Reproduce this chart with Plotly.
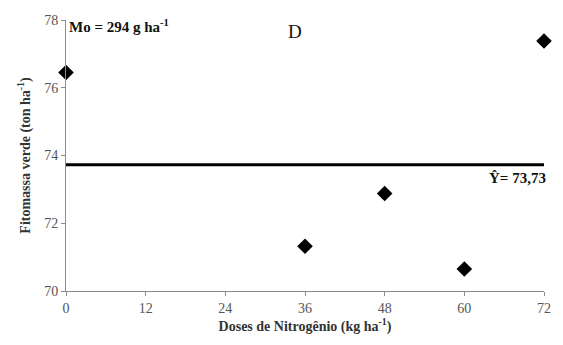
import plotly.graph_objects as go

doses = [0, 36, 48, 60, 72]
fitomassa = [76.45, 71.32, 72.88, 70.65, 77.38]
mean_value = 73.73
x_ticks = [0, 12, 24, 36, 48, 60, 72]
y_ticks = [70, 72, 74, 76, 78]

serif = "Liberation Serif"

fig = go.Figure()
fig.add_trace(go.Scatter(
    x=[min(x_ticks), max(x_ticks)], y=[mean_value, mean_value], mode="lines",
    line=dict(color="black", width=3), hoverinfo="skip", showlegend=False))
fig.add_trace(go.Scatter(
    x=doses, y=fitomassa, mode="markers",
    marker=dict(symbol="diamond", size=12, color="black"), showlegend=False, cliponaxis=False))

axis_common = dict(showgrid=False, zeroline=False, showline=True, linecolor="#8c8c8c", linewidth=1,
                   ticks="outside", ticklen=4, tickcolor="#8c8c8c",
                   tickfont=dict(family=serif, size=14, color="#555555"))
fig.update_xaxes(range=[0, 72], tickvals=x_ticks, **axis_common,
                 title=dict(text="<b>Doses de Nitrogênio (kg ha<sup>-1</sup>)</b>",
                            font=dict(family=serif, size=14, color="#333333"), standoff=6))
fig.update_yaxes(range=[70, 78], tickvals=y_ticks, **axis_common,
                 title=dict(text="<b>Fitomassa verde (ton ha<sup>-1</sup>)</b>",
                            font=dict(family=serif, size=14, color="#333333"), standoff=10))

fig.add_annotation(x=0, y=78, xref="x", yref="y", xanchor="left", yanchor="middle", xshift=1, yshift=-6,
                   text="<b>Mo = 294 g ha<sup>-1</sup></b>", showarrow=False,
                   font=dict(family=serif, size=15, color="#111111"))
fig.add_annotation(x=0.48, y=77.65, xref="paper", yref="y", xanchor="center", yanchor="middle",
                   text="D", showarrow=False, font=dict(family=serif, size=19, color="#111111"))
fig.add_annotation(x=72, y=mean_value, xref="x", yref="y", xanchor="right", yanchor="top",
                   xshift=4, yshift=-3,
                   text="<b>Ŷ= 73,73</b>", showarrow=False,
                   font=dict(family=serif, size=15, color="#111111"))

fig.update_layout(width=563, height=345, margin=dict(l=66, r=14, t=20, b=54),
                  paper_bgcolor="white", plot_bgcolor="white")
fig.write_html("out.html")
